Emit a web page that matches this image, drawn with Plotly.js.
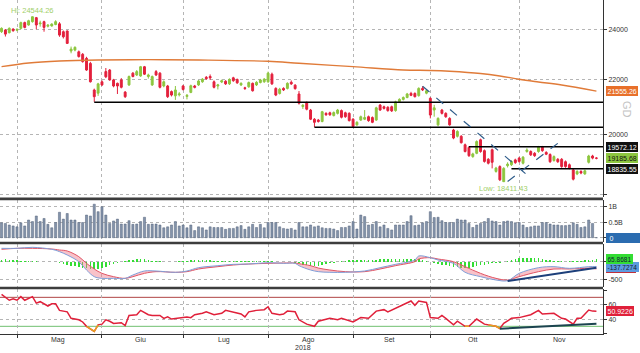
<!DOCTYPE html>
<html><head><meta charset="utf-8">
<script src="https://cdn.plot.ly/plotly-3.0.1.min.js"></script>
<style>html,body{margin:0;padding:0;background:#fff}#c{width:640px;height:353px}</style>
</head><body><div id="c"></div>
<script>
const openP = [23900,23970,23860,24010,23960,24040,24280,24180,24320,24490,
24230,24320,24130,24140,24200,24230,23900,23930,23110,23150,
23080,22980,22820,22620,21600,21480,21910,22300,22360,21980,
21850,21980,21520,21790,22240,22170,22130,22490,22110,21790,
22300,22240,21750,21750,21540,21380,21420,21750,21360,21510,
21750,21790,21910,22080,22110,21910,21750,21900,21930,21830,
22060,22000,21790,21680,21720,21850,21790,21880,21910,21910,
22200,21660,21470,21660,21660,21890,21780,21450,20990,21140,
20860,20530,20500,20450,20740,20760,20660,20740,20840,20760,
20740,20530,20330,20500,20530,20620,20590,20500,21040,20980,
20960,20980,20840,21170,21250,21320,21470,21470,21390,21660,
21480,21290,20860,20330,20860,20740,20560,20150,19930,19930,
19640,19550,19240,19350,19810,19440,19150,19470,18750,18910,
18420,18940,18970,19130,19190,19020,19410,19410,19350,19410,
19560,19380,19310,19110,19150,19150,19070,18970,18800,18670,
18750,18670,19050,19260,19190];
const highP = [24080,24010,24080,24040,24050,24320,24320,24400,24544.26,24520,
24360,24360,24220,24250,24380,24300,23950,23950,23290,23300,
23130,23030,22880,22680,21650,21870,21960,22440,22400,22020,
21880,22050,21560,22150,22280,22360,22520,22520,22220,22150,
22360,22280,21960,21790,21580,21750,21520,21790,21450,21800,
21790,21980,22050,22130,22190,21960,21830,21990,21970,22040,
22100,22030,21890,21720,21920,21880,21930,22020,22050,22300,
22260,21700,21680,21700,21890,21960,21820,21560,21080,21170,
20900,20570,20540,20830,20780,20800,20810,20900,20880,20800,
20780,20570,20460,20660,20860,20660,20630,20980,21080,21020,
21000,21020,21200,21290,21360,21490,21530,21510,21700,21740,
21600,21330,21050,20600,20900,20780,20600,20190,20140,19970,
19680,19590,19370,19790,19850,19480,19190,19510,18900,18950,
18890,19050,19120,19170,19230,19260,19520,19450,19390,19600,
19600,19420,19350,19280,19190,19190,19110,19010,18840,18790,
18790,18810,19300,19300,19220];
const lowP = [23850,23700,23830,23900,23920,24000,24040,24150,24280,24000,
24110,23900,24080,24110,24170,23690,23620,23400,23020,23100,
22850,22650,22330,21880,21160,21380,21750,22050,21950,21700,
21450,21660,21300,21750,22080,22130,22100,22170,22030,21750,
22130,21660,21700,21300,21360,21230,21360,21580,21250,21480,
21660,21750,21870,21990,21980,21660,21620,21860,21790,21790,
21910,21830,21750,21600,21680,21540,21750,21850,21870,21870,
21790,21370,21430,21560,21620,21790,21610,21060,20900,20850,
20500,20250,20410,20420,20650,20650,20630,20700,20560,20580,
20450,20240,20300,20470,20500,20440,20390,20470,20830,20880,
20800,20790,20800,21130,21210,21290,21370,21320,21350,21560,
21440,20560,20620,20280,20700,20580,20300,19830,19890,19680,
19380,19230,19200,19320,19370,19040,18980,18850,18710,18440,
18411.43,18880,18930,19000,19040,18980,19370,19260,19230,19370,
19400,19290,19030,19070,19030,18870,18870,18820,18460,18630,
18660,18640,19010,19150,19150];
const closeP = [24040,23800,24040,23940,23990,24280,24080,24360,24530,24180,
24260,24080,24170,24220,24320,23760,23690,23420,23190,23260,
22890,22690,22360,21910,21350,21830,21790,22100,21980,21750,
21750,21700,21350,22110,22110,22300,22490,22200,22170,22110,
22170,21700,21910,21350,21410,21600,21450,21620,21400,21760,
21700,21940,22010,22030,22060,21700,21790,21950,21830,22000,
21950,21870,21850,21660,21880,21570,21890,21980,22010,22240,
21830,21410,21630,21600,21850,21830,21650,21110,21030,20890,
20530,20420,20450,20800,20690,20690,20770,20860,20600,20620,
20480,20270,20420,20620,20590,20480,20420,20940,20860,20920,
20840,20830,21160,21250,21320,21450,21400,21350,21660,21600,
21570,20680,20940,20560,20740,20620,20330,19870,20100,19710,
19410,19270,19330,19750,19410,19080,19020,19050,18860,18480,
18850,18990,19080,19040,19080,19220,19460,19300,19270,19560,
19440,19320,19070,19240,19070,18910,18910,18860,18500,18750,
18700,18770,19260,19190,19185.68];
const volume = [0.48,0.46,0.41,0.38,0.35,0.48,0.38,0.57,0.52,0.70,
0.52,0.62,0.43,0.32,0.49,0.82,0.60,0.78,0.57,0.57,
0.49,0.49,0.73,0.70,1.08,0.84,1.00,0.73,0.46,0.54,
0.60,0.44,0.44,0.55,0.43,0.44,0.52,0.66,0.43,0.44,
0.44,0.41,0.32,0.35,0.41,0.52,0.38,0.41,0.32,0.41,
0.23,0.35,0.32,0.25,0.35,0.33,0.33,0.33,0.27,0.30,
0.30,0.35,0.39,0.27,0.35,0.43,0.33,0.43,0.32,0.49,
0.49,0.49,0.35,0.30,0.28,0.30,0.25,0.49,0.35,0.35,
0.41,0.35,0.38,0.32,0.30,0.30,0.28,0.23,0.33,0.33,
0.38,0.52,0.28,0.73,0.68,0.41,0.43,0.52,0.35,0.41,
0.30,0.25,0.41,0.41,0.41,0.52,0.71,0.39,0.41,0.48,
0.52,0.84,0.65,0.66,0.55,0.49,0.49,0.49,0.60,0.57,
0.57,0.46,0.33,0.41,0.46,0.52,0.62,0.54,0.52,0.41,
0.52,0.54,0.52,0.48,0.49,0.41,0.33,0.35,0.38,0.38,
0.49,0.49,0.44,0.41,0.41,0.39,0.39,0.41,0.48,0.43,
0.33,0.35,0.57,0.46,0].map(v => v * 1e9);
const macdHist = [60,70,60,50,40,30,30,25,20,10,
5,0,-5,-10,-20,-40,-70,-100,-120,-130,
-150,-170,-190,-210,-215,-200,-170,-140,-100,-60,
-30,0,20,40,60,70,75,70,50,30,
20,10,5,0,0,0,10,20,30,40,
45,50,45,40,35,30,30,25,20,20,
15,15,10,10,10,10,15,15,20,20,
10,0,-5,-10,-10,-15,-25,-50,-80,-100,
-110,-120,-110,-90,-70,-50,-30,-10,10,25,
35,45,55,60,60,60,60,60,65,65,
70,75,80,80,85,85,85,80,70,50,
20,-10,-40,-60,-80,-100,-120,-140,-160,-170,
-175,-170,-150,-120,-95,-80,-60,-45,-40,-30,
-10,20,50,80,95,105,110,115,110,100,
80,60,40,20,10,10,5,10,15,20,
30,40,55,60,65.8681];
const macdX = [0,4,8,13,15,17,20,22,24,26,29,32,34,37,40,45,48,51,56,60,64,69,73,76,77,80,82,85,89,94,98,102,107,108,111,113,117,120,124,128,131,134,139,143,147,152,154];
const macdLine = [379,379,408,351,285,190,1,-236,-425,-473,-473,-473,-378,-264,-264,-302,-264,-170,-113,-75,-66,-28,-47,-47,-113,-236,-283,-302,-302,-264,-170,-75,48,162,114,48,-47,-302,-425,-520,-539,-331,-170,-141,-189,-141,-137.7274];
const signalLine = [351,379,379,360,332,304,143,-47,-208,-331,-425,-473,-425,-331,-283,-302,-283,-208,-141,-94,-66,-47,-37,-37,-56,-113,-180,-236,-283,-283,-208,-113,1,76,114,76,1,-141,-331,-473,-520,-425,-283,-208,-208,-189,-203.596];
const rsiX = [0,1,2,3,4,5,6,8,9,10,12,13,14,15,17,18,20,21,22,24,25,26,27,28,29,31,32,33,35,36,38,39,41,42,43,44,46,48,49,50,52,53,55,57,58,60,62,63,64,66,68,69,70,72,73,74,76,77,78,79,81,82,85,87,88,91,93,95,97,99,100,102,103,105,106,107,108,110,111,113,114,115,117,118,120,121,123,125,126,128,129,130,132,134,137,139,140,143,145,146,148,149,150,152,153,154];
const rsiVal = [74,70,66,68,66,71,66,71,62,64,58,61,61,52,50,41,39,36,30,23,32,33,39,37,34,35,31,45,46,52,46,45,45,41,43,40,41,43,42,46,48,50,46,48,52,50,47,43,50,52,53,57,48,46,47,51,50,39,36,33,30,37,41,39,41,36,42,41,51,53,50,55,58,62,65,59,65,63,42,41,45,41,32,37,30,30,40,33,32,30,27,34,41,42,46,52,47,48,41,40,33,41,41,52.5,51,50.9226];
const maX = [0,7,15,25,38,51,69,77,91,104,111,116,124,129,134,139,145,154];
const ma200 = [22492,22636,22715,22755,22767,22755,22703,22624,22492,22364,22345,22314,22228,22132,22005,21902,21788,21555.26];
const levelValues = [21146,20249,19572.12,18835.55];
const levelStart = [24,81,121,132];
const downTrendX = [109,136], downTrendY = [21740,18640];
const upTrendX = [131,144.6], upTrendY = [18427,19748];
const macdTrendX = [131,154], macdTrendY = [-548,-170];
const rsiTrendX = [129,154], rsiTrendY = [26.7,33.6];
const monthStart = [4,26,47,69,91,111,134,156];
const monthLabels = ['Mag','Giu','Lug','Ago','Set','Ott','Nov'];
const yearLabel = '2018';
const hiLabel = 'Hi: 24544.26', loLabel = 'Low: 18411.43';
const watermark = 'GD';

const idx = openP.map((_, i) => i);
const xEnd = 155.7;
const last = a => a[a.length - 1];
const GREEN = '#8dc63f', RED = '#e3203c';
const FONT = 'Liberation Sans, Arial, sans-serif';
const NB = '&nbsp;';

const traces = [];
traces.push({type:'scatter', mode:'lines', x:maX, y:ma200, line:{color:'#e07b39', width:1.4, shape:'spline'}, xaxis:'x', yaxis:'y', hoverinfo:'skip'});
levelValues.forEach((v, k) => traces.push({type:'scatter', mode:'lines', x:[levelStart[k], xEnd], y:[v, v], line:{color:'#000', width:1.5}, xaxis:'x', yaxis:'y', hoverinfo:'skip'}));
traces.push({type:'candlestick', x:idx, open:openP, high:highP, low:lowP, close:closeP, xaxis:'x', yaxis:'y',
  increasing:{line:{color:GREEN, width:1}, fillcolor:GREEN}, decreasing:{line:{color:RED, width:1}, fillcolor:RED}, whiskerwidth:0});
traces.push({type:'scatter', mode:'lines', x:downTrendX, y:downTrendY, line:{color:'#2e5c8a', width:1.2, dash:'dash'}, xaxis:'x', yaxis:'y'});
traces.push({type:'scatter', mode:'lines', x:upTrendX, y:upTrendY, line:{color:'#2e5c8a', width:1.2, dash:'dash'}, xaxis:'x', yaxis:'y'});
traces.push({type:'bar', x:idx, y:volume, xaxis:'x', yaxis:'y2', width:0.55, marker:{color:'#8494ab', line:{color:'#55637a', width:0.5}}});
traces.push({type:'bar', x:idx, y:macdHist, xaxis:'x', yaxis:'y3', width:0.4, marker:{color:'#33dd33'}});
traces.push({type:'scatter', mode:'lines', x:macdX, y:signalLine, xaxis:'x', yaxis:'y3', line:{color:'#e05565', width:1, shape:'spline'}});
traces.push({type:'scatter', mode:'lines', x:macdX, y:macdLine, xaxis:'x', yaxis:'y3', line:{color:'#7f9fd8', width:1, shape:'spline'}, fill:'tonexty', fillcolor:'rgba(240,120,135,0.45)'});
traces.push({type:'scatter', mode:'lines', x:macdTrendX, y:macdTrendY, xaxis:'x', yaxis:'y3', line:{color:'#1d3f7a', width:2}});
traces.push({type:'scatter', mode:'lines', x:rsiX, y:rsiVal, xaxis:'x', yaxis:'y4', line:{color:'#e0203a', width:1.5}});
traces.push({type:'scatter', mode:'lines', x:rsiX, y:rsiVal.map(v => v <= 32 ? v : null), xaxis:'x', yaxis:'y4', line:{color:'#e8a020', width:1.5}, connectgaps:false});
traces.push({type:'scatter', mode:'lines', x:rsiTrendX, y:rsiTrendY, xaxis:'x', yaxis:'y4', line:{color:'#1c4450', width:2}});

const gridY = {side:'right', anchor:'x', showline:true, linecolor:'#333', linewidth:1, ticks:'outside', ticklen:3, tickcolor:'#333',
  showgrid:true, gridcolor:'#b5b5b5', griddash:'dot', gridwidth:1, zeroline:false, tickfont:{size:7, color:'#333', family:FONT}, fixedrange:true};
const L10 = Math.log10;
const layout = {
  width:640, height:353, margin:{l:0, r:37, t:0, b:19}, showlegend:false,
  paper_bgcolor:'#fff', plot_bgcolor:'#fff', font:{family:FONT, size:7, color:'#333'}, bargap:0,
  xaxis:{domain:[0,1], range:[-0.4, xEnd], anchor:'y4', tickmode:'array', tickvals:monthStart, ticktext:monthStart.map(() => ''),
    ticks:'outside', ticklen:3, tickcolor:'#333', showgrid:true, gridcolor:'#b5b5b5', griddash:'dot', gridwidth:1,
    showline:true, linecolor:'#333', linewidth:1, zeroline:false, rangeslider:{visible:false}, fixedrange:true},
  yaxis:Object.assign({}, gridY, {domain:[0.4102,1], type:'log', range:[4.25374, 4.40231], tickmode:'array',
    tickvals:[18000,20000,22000,24000], ticktext:['','20000','22000','24000']}),
  yaxis2:Object.assign({}, gridY, {domain:[0.2763,0.4003], range:[-0.129e9, 1.206e9], tickmode:'array',
    tickvals:[0,0.5e9,1e9], ticktext:['','0.5B','1B']}),
  yaxis3:Object.assign({}, gridY, {domain:[0.1416,0.2686], range:[-710, 494], tickmode:'array',
    tickvals:[-500,0], ticktext:['-500','']}),
  yaxis4:Object.assign({}, gridY, {domain:[0,0.1341], range:[19.4, 81.2], tickmode:'array',
    tickvals:[20,40,60,80], ticktext:['','40','60','']}),
  shapes:[
    {type:'rect', xref:'paper', yref:'paper', x0:0, x1:1, y0:0.4003, y1:0.4087, fillcolor:'#3d3d3d', line:{width:0}, layer:'above'},
    {type:'rect', xref:'paper', yref:'paper', x0:0, x1:1, y0:0.2686, y1:0.2763, fillcolor:'#3d3d3d', line:{width:0}, layer:'above'},
    {type:'rect', xref:'paper', yref:'paper', x0:0, x1:1, y0:0.1341, y1:0.1416, fillcolor:'#3d3d3d', line:{width:0}, layer:'above'},
    {type:'line', xref:'paper', yref:'y4', x0:0, x1:1, y0:70, y1:70, line:{color:'#b04545', width:1}, layer:'below'},
    {type:'line', xref:'paper', yref:'y4', x0:0, x1:1, y0:30, y1:30, line:{color:'#70c070', width:1}, layer:'below'}
  ],
  annotations:[]
};
const A = layout.annotations;
monthLabels.forEach((m, k) => A.push({xref:'x', yref:'paper', x:(monthStart[k] + monthStart[k+1] - 1) / 2, y:0, yshift:0, yanchor:'top',
  text:m, showarrow:false, font:{size:7, color:'#333', family:FONT}}));
A.push({xref:'x', yref:'paper', x:(monthStart[3] + monthStart[4] - 1) / 2 - 1.5, y:0, yshift:-8, yanchor:'top', text:yearLabel, showarrow:false, font:{size:7, color:'#333', family:FONT}});
const hiIdx = highP.indexOf(Math.max(...highP)), loIdx = lowP.indexOf(Math.min(...lowP));
A.push({xref:'x', yref:'y', x:hiIdx, y:L10(highP[hiIdx]), yanchor:'bottom', yshift:-1, text:hiLabel, showarrow:false, font:{size:7.5, color:'#9fcf6a', family:FONT}});
A.push({xref:'x', yref:'y', x:loIdx, y:L10(lowP[loIdx]), yanchor:'top', yshift:0, text:loLabel, showarrow:false, font:{size:7.5, color:'#9fcf6a', family:FONT}});
A.push({xref:'paper', yref:'paper', x:1, xanchor:'left', xshift:16, y:0.705, text:watermark, textangle:90, showarrow:false,
  font:{size:11, color:'#c4c4c4', family:FONT}});
function badge(yref, y, text, bg, fg, size) {
  A.push({xref:'paper', x:1, xanchor:'left', xshift:3, yref:yref, y:y, text:text, showarrow:false, bgcolor:bg, bordercolor:bg, borderpad:0.5,
    font:{size:size || 7, color:fg, family:FONT}});
}
badge('y', L10(last(ma200)), last(ma200).toFixed(2), '#e8702a', '#fff');
badge('y', L10(levelValues[2]), levelValues[2].toFixed(2), '#111', '#fff');
badge('y', L10(levelValues[3]), levelValues[3].toFixed(2), '#111', '#fff');
badge('y', L10(last(closeP)), last(closeP).toFixed(2), '#8dc63f', '#111');
badge('y2', last(volume), NB + String(last(volume)) + NB.repeat(14), '#2b6cb0', '#fff');
badge('y3', last(signalLine), NB.repeat(16), '#c0303a', '#fff', 6);
badge('y3', last(macdLine), last(macdLine).toFixed(4), '#5c9be0', '#123', 6.5);
badge('y3', last(macdHist), last(macdHist).toFixed(4), '#33dd33', '#123', 6.5);
badge('y4', last(rsiVal), last(rsiVal).toFixed(4), '#e0203a', '#fff');

Plotly.newPlot('c', traces, layout, {staticPlot:true, displayModeBar:false});
</script></body></html>
